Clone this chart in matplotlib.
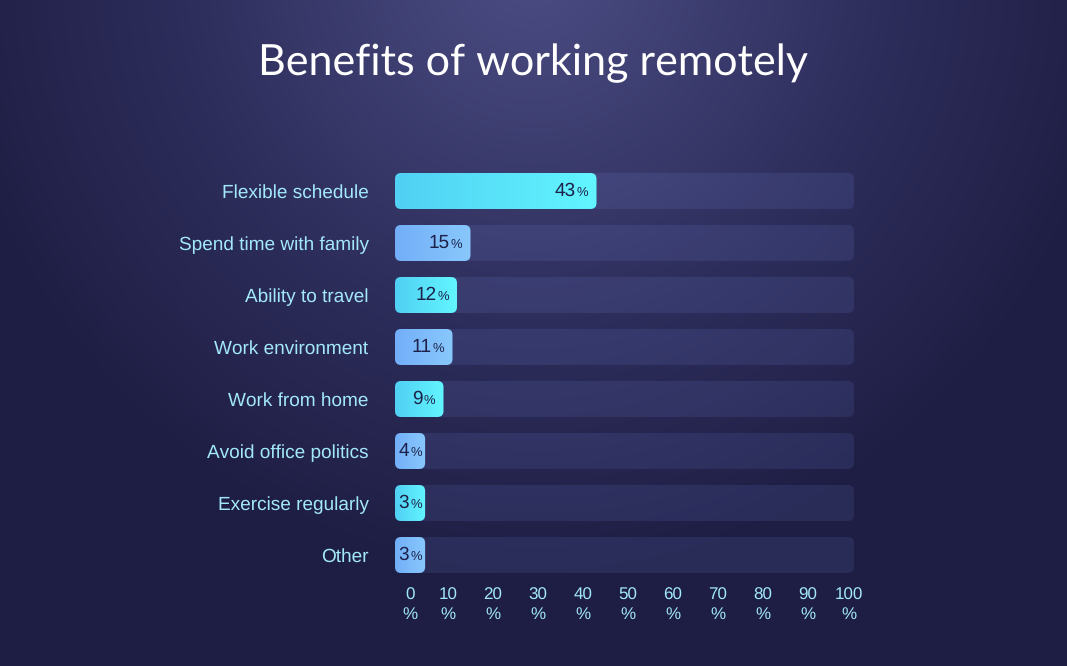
import numpy as np
import matplotlib
matplotlib.use("Agg")
import matplotlib.pyplot as plt
from matplotlib.patches import FancyBboxPatch
from matplotlib.colors import LinearSegmentedColormap, to_rgb
from matplotlib.transforms import ScaledTranslation, offset_copy

plt.rcParams["text.hinting"] = "no_hinting"
plt.rcParams["text.hinting_factor"] = 1

# ---- data ----
categories = ["Flexible schedule", "Spend time with family", "Ability to travel",
              "Work environment", "Work from home", "Avoid office politics",
              "Exercise regularly", "Other"]
values = [43, 15, 12, 11, 9, 4, 3, 3]
tick_values = [0, 10, 20, 30, 40, 50, 60, 70, 80, 90, 100]
tick_labels = [f"{t}\n%" for t in tick_values]
title = "Benefits of working remotely"

W, H = 1067, 666
DPI = 100
fig = plt.figure(figsize=(W / DPI, H / DPI), dpi=DPI)

# ---- background radial gradient ----
bg = fig.add_axes([0, 0, 1, 1], zorder=0)
bg.set_axis_off()
yy, xx = np.mgrid[0:H, 0:W]
r = np.sqrt(((xx - 533) / 600.0) ** 2 + ((yy + 40) / 620.0) ** 2)
r = np.clip(r, 0, 1)
c_in = np.array(to_rgb("#4c4d84"))
c_mid = np.array(to_rgb("#2d2d5b"))
c_out = np.array(to_rgb("#1e1e44"))
t = r[..., None]
img = np.where(t < 0.6, c_in + (c_mid - c_in) * (t / 0.6),
               c_mid + (c_out - c_mid) * ((t - 0.6) / 0.4))
bg.imshow(img, extent=[0, W, H, 0], aspect="auto")
bg.set_xlim(0, W)
bg.set_ylim(H, 0)

# ---- main axes ----
px_per_unit = 4.5
x0_px = 403
left_px, right_px = 395, 854
top_px, bot_px = 165, 581
ax = fig.add_axes([left_px / W, 1 - bot_px / H, (right_px - left_px) / W,
                   (bot_px - top_px) / H], zorder=1)
ax.patch.set_alpha(0)
xmin = (left_px - x0_px) / px_per_unit
xmax = (right_px - x0_px) / px_per_unit
ylims = (len(categories) - 0.5, -0.5)
ax.set_xlim(xmin, xmax)
ax.set_ylim(*ylims)
for s in ax.spines.values():
    s.set_visible(False)

bar_h = 36 / 52
row_px = 52.0
aspect = (1 / row_px) / (1 / px_per_unit)
rad = 6 / px_per_unit

cyan = ("#50d0f3", "#62f5ff")
blue = ("#72aef8", "#88c8fc")
txt_col = "#1d2048"
FONT = "Liberation Sans"

renderer = fig.canvas.get_renderer()

for i, (cat, v) in enumerate(zip(categories, values)):
    # track
    track = FancyBboxPatch((xmin, i - bar_h / 2), xmax - xmin, bar_h,
                           boxstyle=f"round,pad=0,rounding_size={rad}",
                           mutation_aspect=aspect, linewidth=0,
                           facecolor=(0.55, 0.65, 1.0, 0.11), zorder=2)
    ax.add_patch(track)

    # measure label text (pixels)
    t_num = ax.text(0, i, str(v), fontsize=13.5, family=FONT)
    t_pct = ax.text(0, i, "%", fontsize=9.5, family=FONT)
    w_num = t_num.get_window_extent(renderer).width
    w_pct = t_pct.get_window_extent(renderer).width
    t_num.remove(); t_pct.remove()
    gap = 1.0
    w_txt = w_num + gap + w_pct

    bar_w_px = max((v - xmin) * px_per_unit, w_txt + 7)
    end = xmin + bar_w_px / px_per_unit
    pad_px = min(8, (bar_w_px - w_txt) / 2)

    cols = cyan if i % 2 == 0 else blue
    bar = FancyBboxPatch((xmin, i - bar_h / 2), end - xmin, bar_h,
                         boxstyle=f"round,pad=0,rounding_size={rad}",
                         mutation_aspect=aspect, linewidth=0,
                         facecolor="none", zorder=3)
    ax.add_patch(bar)
    cmap = LinearSegmentedColormap.from_list("g", list(cols))
    grad = np.linspace(0, 1, 256)[None, :]
    im = ax.imshow(grad, cmap=cmap, extent=[xmin, end, i + bar_h / 2, i - bar_h / 2],
                   aspect="auto", zorder=3, interpolation="bilinear")
    im.set_clip_path(bar)

    tr_pct = offset_copy(ax.transData, fig=fig, x=-pad_px * 72 / DPI, y=-1.5 * 72 / DPI, units="points")
    ax.text(end, i, "%", transform=tr_pct, ha="right", va="center", fontsize=9.5,
            color=txt_col, family=FONT, zorder=5)
    tr_num = offset_copy(ax.transData, fig=fig, x=-(pad_px + w_pct + gap) * 72 / DPI,
                         y=0, units="points")
    ax.text(end, i, str(v), transform=tr_num, ha="right", va="center", fontsize=13.5,
            color=txt_col, family=FONT, zorder=5)

ax.set_xlim(xmin, xmax)
ax.set_ylim(*ylims)

ax.set_yticks(range(len(categories)))
ax.set_yticklabels(categories, fontsize=14, color="#a3e8fa", family=FONT)
ax.tick_params(axis="y", length=0, pad=19)
ax.set_xticks(tick_values)
ax.set_xticklabels(tick_labels, fontsize=12, color="#a3e8fa", family=FONT,
                   linespacing=1.2)
ax.tick_params(axis="x", length=0, pad=5)
ax.set_xlim(xmin, xmax)
ax.set_ylim(*ylims)
xt = ax.get_xticklabels()
xt[0].set_transform(xt[0].get_transform() + ScaledTranslation(7 / DPI, 0, fig.dpi_scale_trans))
xt[-1].set_transform(xt[-1].get_transform() + ScaledTranslation(-4 / DPI, 0, fig.dpi_scale_trans))

fig.text(533 / W, 1 - 63 / H, title, ha="center", va="center", fontsize=30.8,
         color="white", family="Lato")

fig.savefig("out.png", dpi=DPI)
